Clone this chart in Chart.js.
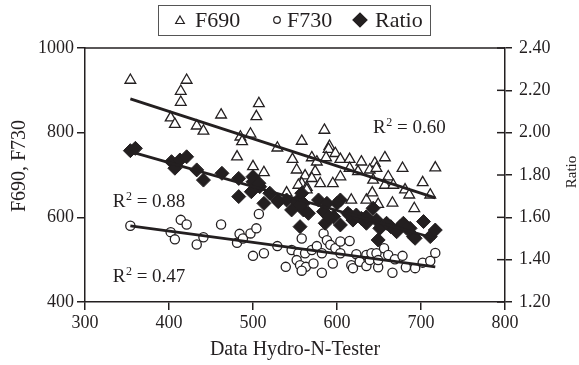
<!DOCTYPE html>
<html>
<head>
<meta charset="utf-8">
<script src="https://cdn.jsdelivr.net/npm/chart.js@4.4.0/dist/chart.umd.min.js"></script>
<style>
  html, body { margin: 0; padding: 0; background: #fff; }
</style>
</head>
<body>
<canvas id="chart" width="579" height="365"></canvas>
<script>
// F690 (open triangles, left axis)
const f690X = [354,421,414,414,402,407,433,441,462,507,504,497,485,487,529,481,500,513,585,558,591,590,598,547,570,576,587,604,615,629,645,657,678,717,552,562,574,558,570,554,564,580,595,604,615,625,639,647,661,643,657,667,702,681,686,711,540,617,635,642,649,666,692,564];
const f690Y = [924,924,898,872,835,820,816,804,842,869,838,797,790,779,764,743,720,706,806,780,768,761,751,737,741,731,741,737,737,731,728,741,716,717,712,698,708,680,692,676,671,680,680,696,716,708,712,716,696,688,676,676,682,665,653,653,658,641,641,658,631,634,621,665];

// F730 (open circles, left axis)
const f730X = [354,402,407,414,421,433,441,462,481,484,488,497,504,507,500,513,529,539,546,554,552,558,562,556,563,558,570,572,576,582,584,582,588,592,595,598,604,604,615,617,619,623,627,635,635,639,641,647,649,649,656,661,666,669,678,682,693,702,711,717];
const f730Y = [580,565,548,594,583,536,553,583,540,561,550,562,574,608,509,515,532,483,523,515,499,550,515,487,483,474,523,491,532,515,562,469,546,535,491,527,543,515,544,487,480,513,495,485,511,499,515,515,482,499,527,511,469,501,509,482,480,493,497,516];

// Ratio (filled diamonds, right axis)
const ratioX = [354,360,403,407,413,421,433,441,463,483,483,500,498,508,513,529,540,552,558,560,556,560,578,588,604,566,584,596,613,619,629,635,647,651,649,664,675,679,691,687,703,643,520,546,600,586,604,615,671,693,711,717,556,590,623,635,659,683,530,500,507];
const ratioY = [1.915,1.926,1.863,1.832,1.871,1.886,1.824,1.776,1.808,1.784,1.698,1.792,1.721,1.745,1.666,1.682,1.682,1.674,1.714,1.635,1.556,1.666,1.682,1.666,1.682,1.619,1.627,1.603,1.619,1.587,1.595,1.572,1.587,1.548,1.493,1.556,1.556,1.572,1.509,1.548,1.580,1.643,1.714,1.635,1.666,1.572,1.564,1.611,1.532,1.501,1.509,1.540,1.658,1.603,1.611,1.603,1.572,1.548,1.674,1.768,1.761];

// trend lines at their two ends
const trendX = [354, 717];
const f690Trend = [880, 646];
const f730Trend = [580, 483];
const ratioTrend = [1.91, 1.50];

// R² labels: text and where they sit (x, left-axis value)
const r2Text = ["0.60", "0.88", "0.47"];
const r2X = [643, 333, 333];
const r2Y = [799, 624, 447];

const xTicks = [300, 400, 500, 600, 700, 800];
const ink = "#231f20";
const serif = '"Liberation Serif", "Times New Roman", serif';

const pts = (xs, ys) => xs.map((x, i) => ({ x, y: ys[i] }));

function drawMark(ctx, style, r, x, y, fill) {
  ctx.save();
  ctx.strokeStyle = ink;
  ctx.fillStyle = fill;
  ctx.lineWidth = 1.2;
  ctx.beginPath();
  if (style === "triangle") {
    ctx.moveTo(x, y - r);
    ctx.lineTo(x + r * 0.866, y + r / 2);
    ctx.lineTo(x - r * 0.866, y + r / 2);
    ctx.closePath();
  } else if (style === "circle") {
    ctx.arc(x, y, r, 0, Math.PI * 2);
  } else {
    ctx.moveTo(x - r, y);
    ctx.lineTo(x, y - r);
    ctx.lineTo(x + r, y);
    ctx.lineTo(x, y + r);
    ctx.closePath();
  }
  ctx.fill();
  ctx.stroke();
  ctx.restore();
}

const extras = {
  id: "extras",
  afterDraw(chart) {
    const ctx = chart.ctx;
    const a = chart.chartArea;
    const xs = chart.scales.x, ys = chart.scales.y, y2 = chart.scales.y2;
    ctx.save();
    ctx.strokeStyle = ink;
    ctx.lineWidth = 1.5;
    // top frame line
    ctx.beginPath();
    ctx.moveTo(a.left, a.top);
    ctx.lineTo(a.right, a.top);
    ctx.stroke();
    // inner half of the right axis ticks
    y2.ticks.forEach(t => {
      const py = y2.getPixelForValue(t.value);
      ctx.beginPath();
      ctx.moveTo(a.right - 8, py);
      ctx.lineTo(a.right, py);
      ctx.stroke();
    });

    // legend
    ctx.lineWidth = 1;
    ctx.strokeStyle = "#555";
    ctx.strokeRect(158.5, 5.5, 272, 30);
    ctx.fillStyle = ink;
    ctx.font = "22px " + serif;
    ctx.textBaseline = "alphabetic";
    ctx.textAlign = "left";
    drawMark(ctx, "triangle", 5, 180, 21, "#fff");
    ctx.fillText("F690", 195, 27);
    drawMark(ctx, "circle", 3.3, 277, 20, "#fff");
    ctx.fillText("F730", 287, 27);
    drawMark(ctx, "rectRot", 7, 360, 20, ink);
    ctx.fillStyle = ink;
    ctx.fillText("Ratio", 375, 27);

    // R² labels
    r2Text.forEach((txt, i) => {
      let px = xs.getPixelForValue(r2X[i]);
      const py = ys.getPixelForValue(r2Y[i]);
      ctx.fillStyle = ink;
      ctx.font = "19px " + serif;
      ctx.fillText("R", px, py);
      px += ctx.measureText("R").width + 0.5;
      ctx.font = "12px " + serif;
      ctx.fillText("2", px, py - 7);
      px += ctx.measureText("2").width;
      ctx.font = "19px " + serif;
      ctx.fillText(" = " + txt, px, py);
    });

    // left axis title sits a little above centre in the original
    ctx.save();
    ctx.translate(20, 166);
    ctx.rotate(-Math.PI / 2);
    ctx.font = "20px " + serif;
    ctx.textAlign = "center";
    ctx.textBaseline = "middle";
    ctx.fillStyle = ink;
    ctx.fillText("F690, F730", 0, 0);
    ctx.restore();

    // right axis title, reading bottom to top
    ctx.save();
    ctx.translate(572, 172);
    ctx.rotate(-Math.PI / 2);
    ctx.font = "15px " + serif;
    ctx.textAlign = "center";
    ctx.textBaseline = "middle";
    ctx.fillStyle = ink;
    ctx.fillText("Ratio", 0, 0);
    ctx.restore();
    ctx.restore();
  }
};

const axisBase = {
  grid: { display: true, drawOnChartArea: false, drawTicks: true, tickLength: 8, color: ink, lineWidth: 1.5 },
  border: { display: true, color: ink, width: 1.5 },
  ticks: { color: ink, font: { family: serif, size: 18 } }
};

new Chart(document.getElementById("chart"), {
  data: {
    datasets: [
      { type: "line", data: pts(trendX, f690Trend), yAxisID: "y", borderColor: ink, borderWidth: 2.8, pointRadius: 0, order: 0 },
      { type: "line", data: pts(trendX, f730Trend), yAxisID: "y", borderColor: ink, borderWidth: 2.8, pointRadius: 0, order: 0 },
      { type: "line", data: pts(trendX, ratioTrend), yAxisID: "y2", borderColor: ink, borderWidth: 2.8, pointRadius: 0, order: 0 },
      { type: "scatter", label: "Ratio", data: pts(ratioX, ratioY), yAxisID: "y2", pointStyle: "rectRot", pointRadius: 7, backgroundColor: ink, borderColor: ink, borderWidth: 1, order: 1 },
      { type: "scatter", label: "F730", data: pts(f730X, f730Y), yAxisID: "y", pointStyle: "circle", pointRadius: 4.6, backgroundColor: "#fff", borderColor: ink, borderWidth: 1.3, order: 2 },
      { type: "scatter", label: "F690", data: pts(f690X, f690Y), yAxisID: "y", pointStyle: "triangle", pointRadius: 6.2, backgroundColor: "#fff", borderColor: ink, borderWidth: 1.3, order: 3 }
    ]
  },
  options: {
    responsive: false,
    animation: false,
    devicePixelRatio: 1,
    layout: { padding: { top: 48, left: 0, right: 0, bottom: 0 } },
    plugins: { legend: { display: false }, tooltip: { enabled: false } },
    scales: {
      x: {
        ...axisBase,
        type: "linear",
        min: 300, max: 800,
        afterBuildTicks: s => { s.ticks = xTicks.map(v => ({ value: v })); },
        ticks: { ...axisBase.ticks, padding: 2, callback: v => String(v) },
        title: { display: true, text: "Data Hydro-N-Tester", color: ink, font: { family: serif, size: 20 }, padding: { top: 0, bottom: 3 } },
        afterFit: s => { s.height = 63; }
      },
      y: {
        ...axisBase,
        position: "left",
        min: 400, max: 1000,
        ticks: { ...axisBase.ticks, stepSize: 200, padding: 3, callback: v => String(v) },
        afterFit: s => { s.width = 85; }
      },
      y2: {
        ...axisBase,
        position: "right",
        min: 1.2, max: 2.4,
        grid: { ...axisBase.grid, tickLength: 7 },
        ticks: { ...axisBase.ticks, stepSize: 0.2, padding: 7, callback: v => Number(v).toFixed(2) },
        afterFit: s => { s.width = 74; }
      }
    }
  },
  plugins: [extras]
});
</script>
</body>
</html>
